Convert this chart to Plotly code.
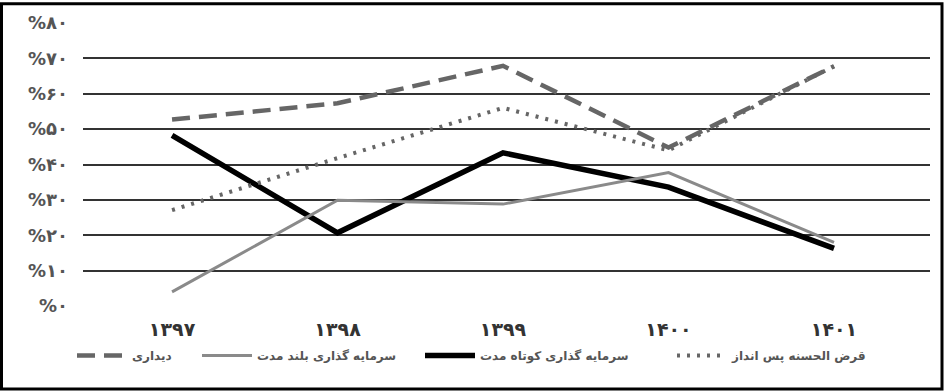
import plotly.graph_objects as go

years = ["۱۳۹۷", "۱۳۹۸", "۱۳۹۹", "۱۴۰۰", "۱۴۰۱"]
y_ticks = [0, 10, 20, 30, 40, 50, 60, 70, 80]
y_tick_labels = ["%۰", "%۱۰", "%۲۰", "%۳۰", "%۴۰", "%۵۰", "%۶۰", "%۷۰", "%۸۰"]

names = ["دیداری", "سرمایه گذاری بلند مدت", "سرمایه گذاری کوتاه مدت", "قرض الحسنه پس انداز"]
didari = [52.7, 57.3, 67.9, 44.8, 67.8]
boland = [4.0, 29.9, 28.8, 37.7, 18.0]
kootah = [48.2, 20.7, 43.3, 33.6, 16.3]
gharz = [27.1, 41.8, 56.0, 44.0, 67.8]

fig = go.Figure()
fig.add_trace(go.Scatter(x=years, y=didari, mode="lines", name=names[0], legend="legend",
                         line=dict(color="#666666", width=4.5, dash="18px,9px")))
fig.add_trace(go.Scatter(x=years, y=kootah, mode="lines", name=names[2], legend="legend3",
                         line=dict(color="#000000", width=5.5)))
fig.add_trace(go.Scatter(x=years, y=boland, mode="lines", name=names[1], legend="legend2",
                         line=dict(color="#8a8a8a", width=3)))
fig.add_trace(go.Scatter(x=years, y=gharz, mode="lines", name=names[3], legend="legend4",
                         line=dict(color="#666666", width=4, dash="3px,7px")))

L = 83
W = 847
def lx(px):
    return (px - L) / W

leg_common = dict(orientation="h", yanchor="middle", y=-0.175, xanchor="left",
                  bgcolor="rgba(0,0,0,0)", borderwidth=0, itemwidth=50,
                  font=dict(family="DejaVu Sans", size=12, color="#555555", weight="bold"))
fig.update_layout(
    legend=dict(x=lx(72), **leg_common),
    legend2=dict(x=lx(197), **leg_common),
    legend3=dict(x=lx(420), **leg_common),
    legend4=dict(x=lx(672), **leg_common),
)

fig.update_layout(
    width=944, height=392,
    margin=dict(l=83, r=14, t=21, b=86),
    paper_bgcolor="white", plot_bgcolor="white",
    showlegend=True,
    xaxis=dict(range=[-0.538, 4.58], showgrid=False, zeroline=False, showline=False,
               tickfont=dict(family="DejaVu Sans", size=19, color="#333333", weight="bold"),
               ticklabelstandoff=10),
    yaxis=dict(range=[0, 80], tickvals=y_ticks, ticktext=y_tick_labels,
               showgrid=True, gridcolor="#333333", gridwidth=1.5, zeroline=False,
               showline=False,
               tickfont=dict(family="DejaVu Sans", size=18, color="#555555", weight="bold"),
               ticklabelstandoff=14),
)

# outer frame
x0 = (1.5 - L) / W
x1 = (942 - L) / W
y1 = (306 - 1.5) / 285
y0 = (306 - 389.5) / 285
fig.add_shape(type="rect", xref="paper", yref="paper", x0=x0, x1=x1, y0=y0, y1=y1,
              line=dict(color="black", width=3), layer="above")

fig.write_html("out.html", config={"displayModeBar": False},
               post_script="document.body.style.margin='0';document.body.style.overflow='hidden';")
